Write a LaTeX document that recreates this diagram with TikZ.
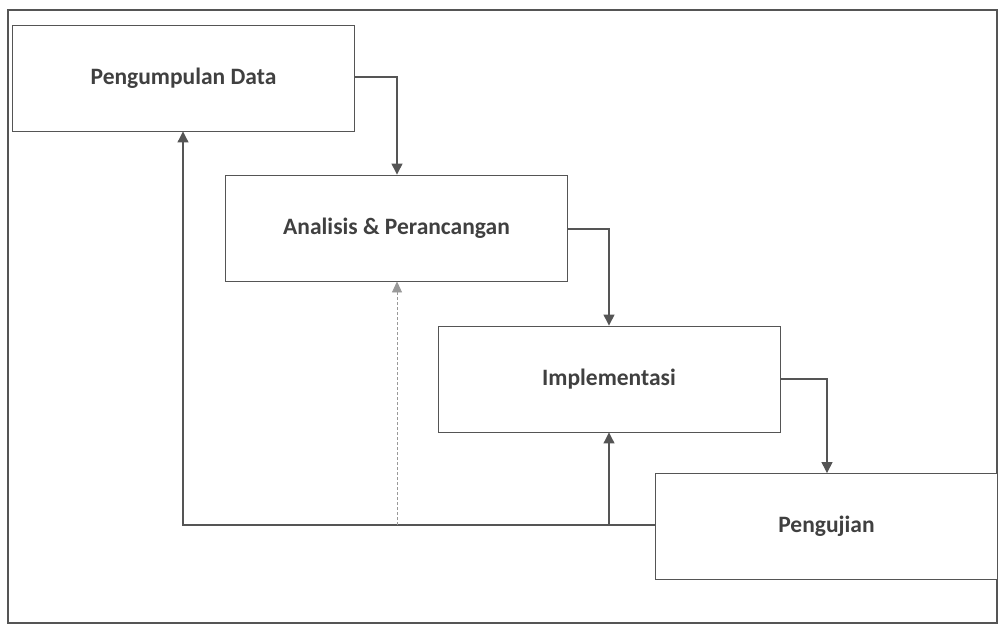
\documentclass[tikz,border=0pt]{standalone}
\usepackage{fontspec}
\setmainfont{Carlito}
\usetikzlibrary{arrows.meta}
\definecolor{ln}{HTML}{555555}
\definecolor{tx}{HTML}{404040}
\begin{document}
\begin{tikzpicture}[x=1pt,y=-1pt,
  stage/.style={draw=ln,line width=0.9pt,fill=white,minimum width=342pt,minimum height=106pt,inner sep=0pt,
    font=\bfseries\fontsize{23.5}{27}\selectfont,text=tx},
  flow/.style={draw=ln,line width=1.3pt,-{Triangle[length=11pt,width=11pt]}},
  back/.style={draw=ln,line width=1.1pt,-{Triangle[length=11pt,width=11pt]}},
  dback/.style={draw=ln!60,line width=0.8pt,densely dashed,-{Triangle[length=11pt,width=10pt]}}]
\useasboundingbox (0,0) rectangle (998,630);
\draw[ln,line width=1.2pt] (8,10) rectangle (997,623);
\node[stage] (pd) at (183.5,78) {Pengumpulan Data};
\node[stage] (ap) at (396.5,228) {Analisis \& Perancangan};
\node[stage] (im) at (609,379) {Implementasi};
\node[stage] (pu) at (826.5,526.5) {Pengujian};
\coordinate (j) at (609,525);
\draw[flow] (pd.east |- 0,77) -| (ap.north -| 397,0);
\draw[flow] (ap.east |- 0,229) -| (im.north -| 609,0);
\draw[flow] (im.east |- 0,379) -| (pu.north -| 827,0);
\draw[back] (pu.west |- j) -- (j) -| (pd.south -| 183,0);
\draw[back] (j) -- (im.south -| j);
\draw[dback] (397,525) -- (ap.south -| 397,0);
\end{tikzpicture}
\end{document}
